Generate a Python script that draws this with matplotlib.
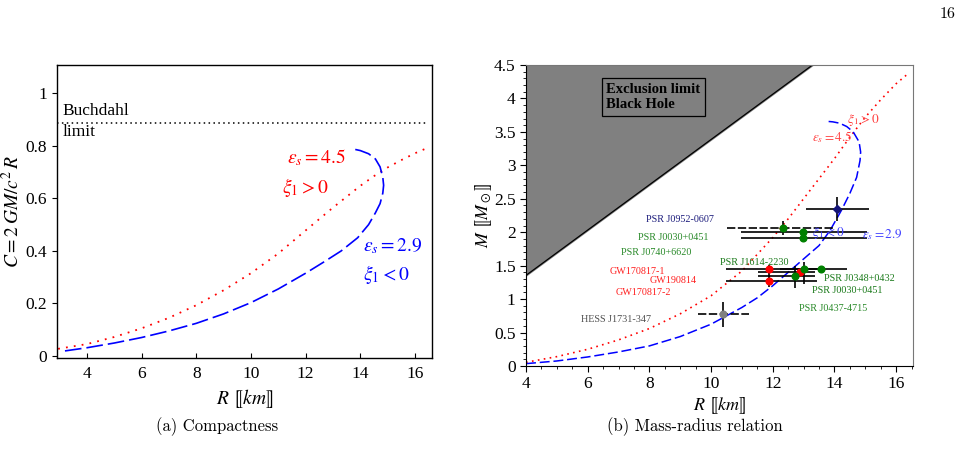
import matplotlib
matplotlib.use('Agg')
import matplotlib.pyplot as plt

plt.rcParams['font.family'] = ['Liberation Serif', 'DejaVu Serif']
plt.rcParams['mathtext.fontset'] = 'stix'

# ---- (a) compactness: R [km] vs C ----
red_R = [2.95, 4, 5, 6, 7, 8, 9, 10, 11, 12, 13, 14, 14.5, 15, 15.5, 16, 16.4]
red_C = [0.027, 0.045, 0.072, 0.105, 0.145, 0.193, 0.25, 0.315, 0.39, 0.478, 0.565, 0.648,
         0.685, 0.718, 0.746, 0.772, 0.79]
blue_R = [3.2, 4, 5, 6, 7, 8, 9, 10, 11, 12, 12.7, 13.3, 13.9, 14.3, 14.55, 14.72, 14.82,
          14.85, 14.82, 14.72, 14.55, 14.3, 14.0, 13.74]
blue_C = [0.019, 0.031, 0.049, 0.07, 0.095, 0.124, 0.16, 0.203, 0.255, 0.315, 0.36, 0.40,
          0.45, 0.50, 0.545, 0.58, 0.62, 0.65, 0.68, 0.72, 0.75, 0.77, 0.782, 0.788]
buchdahl = 8 / 9

# ---- (b) mass-radius: R [km] vs M [Msun] ----
red_Rb = [4, 5, 6, 7, 8, 9, 10, 11, 12, 12.5, 13, 13.5, 14, 14.5, 15, 15.5, 16, 16.4]
red_M = [0.055, 0.14, 0.25, 0.39, 0.56, 0.78, 1.05, 1.42, 1.92, 2.2, 2.5, 2.8, 3.1, 3.42,
         3.72, 3.98, 4.22, 4.375]
blue_Rb = [4, 5, 6, 7, 8, 9, 10, 11, 11.5, 12, 12.5, 13, 13.5, 13.85, 14.23, 14.5, 14.72,
           14.83, 14.85, 14.8, 14.61, 14.4, 14.17, 13.95, 13.72]
blue_M = [0.035, 0.075, 0.135, 0.21, 0.30, 0.44, 0.625, 0.875, 1.02, 1.2, 1.4, 1.6, 1.8,
          2.02, 2.33, 2.58, 2.82, 3.07, 3.2, 3.35, 3.5, 3.58, 3.63, 3.65, 3.66]
bh_R = [4.0, 13.29]
bh_M = [1.355, 4.5]

# observed objects
src_R = [14.07, 12.33, 12.98, 12.98, 11.88, 11.88, 12.88, 12.71, 13.02, 13.58, 10.38]
src_M = [2.35, 2.07, 2.01, 1.91, 1.45, 1.265, 1.40, 1.35, 1.45, 1.45, 0.78]
src_Rlo = [1.0, 1.8, 2.0, 2.0, 1.39, 1.39, 1.36, 1.19, 0.8, 0.6, 0.8]
src_Rhi = [1.05, 1.7, 2.07, 2.07, 1.0, 1.54, 0.49, 0.66, 0.5, 0.82, 0.86]
src_Mlo = [0.18, 0.11, 0.03, 0.03, 0.09, 0.09, 0.04, 0.18, 0.23, 0.03, 0.2]
src_Mhi = [0.17, 0.10, 0.03, 0.03, 0.06, 0.09, 0.04, 0.15, 0.10, 0.03, 0.18]
src_col = ['#141478', 'green', 'green', 'green', 'red', 'red', 'red', 'green', 'green',
           'green', 'gray']
src_mk = ['D', 'o', 'o', 'o', 'o', 'o', 'o', 'o', 'o', 'o', 'o']
src_dash = [False, True, False, False, False, False, False, False, False, False, True]

lbl_txt = ['PSR J0952-0607', 'PSR J0030+0451', 'PSR J0740+6620', 'PSR J1614-2230',
           'GW170817-1', 'GW190814', 'GW170817-2', 'PSR J0348+0432', 'PSR J0030+0451',
           'PSR J0437-4715', 'HESS J1731-347']
lbl_R = [7.90, 7.63, 7.08, 10.30, 6.72, 8.02, 6.89, 13.65, 13.26, 12.84, 5.78]
lbl_M = [2.19, 1.92, 1.695, 1.545, 1.41, 1.275, 1.095, 1.305, 1.125, 0.855, 0.69]
lbl_col = ['#1c1c7c', '#2a8a2a', '#2a8a2a', '#1a7a1a', '#ff2020', '#ff2020', '#ff2020',
           '#1a7a1a', '#1a7a1a', '#2a8a2a', '#505050']

fig = plt.figure(figsize=(9.7, 4.67), dpi=100)

# ---------------- left panel ----------------
ax1 = fig.add_axes([0.0588, 0.2334, 0.3866, 0.6274])
ax1.plot(red_R, red_C, color='red', lw=1.3, linestyle=(0, (1, 3.4)))
ax1.plot(blue_R, blue_C, color='blue', lw=1.2, linestyle=(0, (10, 3)))
ax1.axhline(buchdahl, xmin=0.0, xmax=0.985, color='black', lw=1.1, linestyle=(0, (1, 2.2)))
ax1.set_xlim(2.91, 16.62)
ax1.set_ylim(-0.008, 1.108)
ax1.set_xticks([4, 6, 8, 10, 12, 14, 16])
ax1.set_yticks([0, 0.2, 0.4, 0.6, 0.8, 1])
ax1.set_yticklabels(['0', '0.2', '0.4', '0.6', '0.8', '1'])
ax1.tick_params(axis='x', direction='in', labelsize=12.5, pad=6)
ax1.tick_params(axis='y', direction='out', labelsize=12.5)
ax1.tick_params(top=False, right=False)
for s in ax1.spines.values():
    s.set_linewidth(1.0)
ax1.set_xlabel(r'$R\ ⟦km⟧$', fontsize=14, labelpad=3)
ax1.set_ylabel(r'$C=2\,GM/c^2\,R$', fontsize=14, labelpad=2)
ax1.text(3.1, 0.933, 'Buchdahl', fontsize=12.5, va='center')
ax1.text(3.1, 0.853, 'limit', fontsize=12.5, va='center')
ax1.text(11.32, 0.735, r'$\epsilon_s=4.5$', color='red', fontsize=14)
ax1.text(11.14, 0.62, r'$\xi_1>0$', color='red', fontsize=14)
ax1.text(14.1, 0.397, r'$\epsilon_s=2.9$', color='blue', fontsize=14)
ax1.text(14.1, 0.29, r'$\xi_1<0$', color='blue', fontsize=14)

# ---------------- right panel ----------------
ax2 = fig.add_axes([0.5423, 0.2163, 0.399, 0.6445])
ax2.fill_between(bh_R, bh_M, 4.5, color='#808080', zorder=1)
ax2.plot(bh_R, bh_M, color='black', lw=0.9, zorder=2)
ax2.plot(red_Rb, red_M, color='red', lw=1.2, linestyle=(0, (1, 2.6)), zorder=2)
ax2.plot(blue_Rb, blue_M, color='blue', lw=1.1, linestyle=(0, (6.5, 2.5)), zorder=2)

for i in range(len(src_R)):
    eb = ax2.errorbar(src_R[i], src_M[i],
                      xerr=[[src_Rlo[i]], [src_Rhi[i]]],
                      yerr=[[src_Mlo[i]], [src_Mhi[i]]],
                      fmt=src_mk[i], color=src_col[i], ecolor='black',
                      elinewidth=1.2, capsize=0, ms=4.8 if src_mk[i] == 'o' else 4.2,
                      zorder=3)
    if src_dash[i]:
        eb[2][0].set_linestyle((0, (5, 1.5)))

for t, x, y, c in zip(lbl_txt, lbl_R, lbl_M, lbl_col):
    ax2.text(x, y, t, color=c, fontsize=7.3, va='center')

ax2.text(14.40, 3.63, r'$\xi_1>0$', color='#ff4040', fontsize=9.5)
ax2.text(13.26, 3.36, r'$\epsilon_s=4.5$', color='#ff4040', fontsize=9.5)
ax2.text(13.26, 1.95, r'$\xi_1<0$', color='#4040ff', fontsize=9.5)
ax2.text(14.89, 1.905, r'$\epsilon_s=2.9$', color='#4040ff', fontsize=9.5)

ax2.text(6.6, 4.02, 'Exclusion limit\nBlack Hole', fontsize=10.5, fontweight='bold',
         va='center', ha='left', linespacing=1.25,
         bbox=dict(boxstyle='square,pad=0.3', facecolor='#808080', edgecolor='black', lw=0.9))

ax2.set_xlim(4, 16.55)
ax2.set_ylim(0, 4.5)
ax2.set_xticks([4, 6, 8, 10, 12, 14, 16])
ax2.set_xticks([4.5, 5, 5.5, 6.5, 7, 7.5, 8.5, 9, 9.5, 10.5, 11, 11.5, 12.5, 13, 13.5,
                14.5, 15, 15.5, 16.5], minor=True)
ax2.set_yticks([0, 0.5, 1, 1.5, 2, 2.5, 3, 3.5, 4, 4.5])
ax2.set_yticklabels(['0', '0.5', '1', '1.5', '2', '2.5', '3', '3.5', '4', '4.5'])
ax2.set_yticks([v / 10 for v in range(46) if v % 5 != 0], minor=True)
ax2.tick_params(which='both', direction='out', top=False, right=False)
ax2.tick_params(which='major', labelsize=12.5, length=4)
ax2.tick_params(which='minor', length=2)
ax2.spines['top'].set_color('#777777')
ax2.spines['right'].set_color('#777777')
ax2.set_xlabel(r'$R\ ⟦km⟧$', fontsize=13, labelpad=2)
ax2.set_ylabel(r'$M\ ⟦M_\odot⟧$', fontsize=13, labelpad=0)

# captions and page number
fig.text(0.2237, 1 - 427 / 467, '(a) Compactness', family='cmr10', fontsize=12,
         ha='center', va='center')
fig.text(0.7165, 1 - 427 / 467, '(b) Mass-radius relation', family='cmr10', fontsize=12,
         ha='center', va='center')
fig.text(0.977, 1 - 14 / 467, '16', family='cmr10', fontsize=11.5, ha='center', va='center')

fig.savefig('out.png', dpi=100)
